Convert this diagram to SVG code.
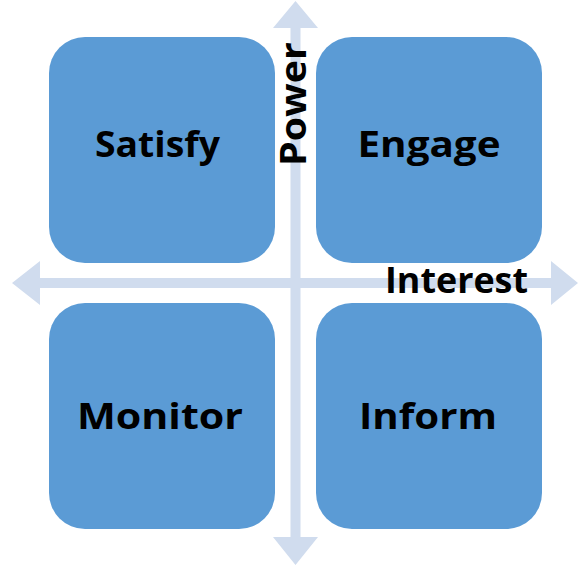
<svg xmlns="http://www.w3.org/2000/svg" width="586" height="568" viewBox="0 0 586 568">
<style>
.box{fill:#5B9BD5}
.arr{fill:#D0DCEE}
.lbl{font-family:"Open Sans","Liberation Sans",sans-serif;font-weight:700;font-size:36px;fill:#000;text-anchor:middle}
</style>
<rect width="586" height="568" fill="#fff"/>
<g id="connectors">
<polygon class="arr" points="12,283 40,261 40,278 551,278 551,261 578,283 551,305 551,288 40,288 40,305"/>
<polygon class="arr" points="295.5,1 318,28 300.5,28 300.5,537 318,537 295.5,565 273,537 290.5,537 290.5,28 273,28"/>
</g>
<g id="satisfy">
<rect class="box" x="49" y="37" width="226" height="226" rx="36"/>
<text class="lbl" x="157.5" y="157" textLength="125" lengthAdjust="spacingAndGlyphs">Satisfy</text>
</g>
<g id="engage">
<rect class="box" x="316" y="37" width="226" height="226" rx="36"/>
<text class="lbl" x="429" y="157" textLength="143" lengthAdjust="spacingAndGlyphs">Engage</text>
</g>
<g id="monitor">
<rect class="box" x="49" y="303" width="226" height="226" rx="36"/>
<text class="lbl" x="160" y="429" textLength="166" lengthAdjust="spacingAndGlyphs">Monitor</text>
</g>
<g id="inform">
<rect class="box" x="316" y="303" width="226" height="226" rx="36"/>
<text class="lbl" x="428" y="429" textLength="138" lengthAdjust="spacingAndGlyphs">Inform</text>
</g>
<g id="power">
<text class="lbl" transform="translate(306,104) rotate(-90)" x="0" y="0" textLength="124" lengthAdjust="spacingAndGlyphs">Power</text>
</g>
<g id="interest">
<text class="lbl" x="456.5" y="293" textLength="143" lengthAdjust="spacingAndGlyphs">Interest</text>
</g>
</svg>
